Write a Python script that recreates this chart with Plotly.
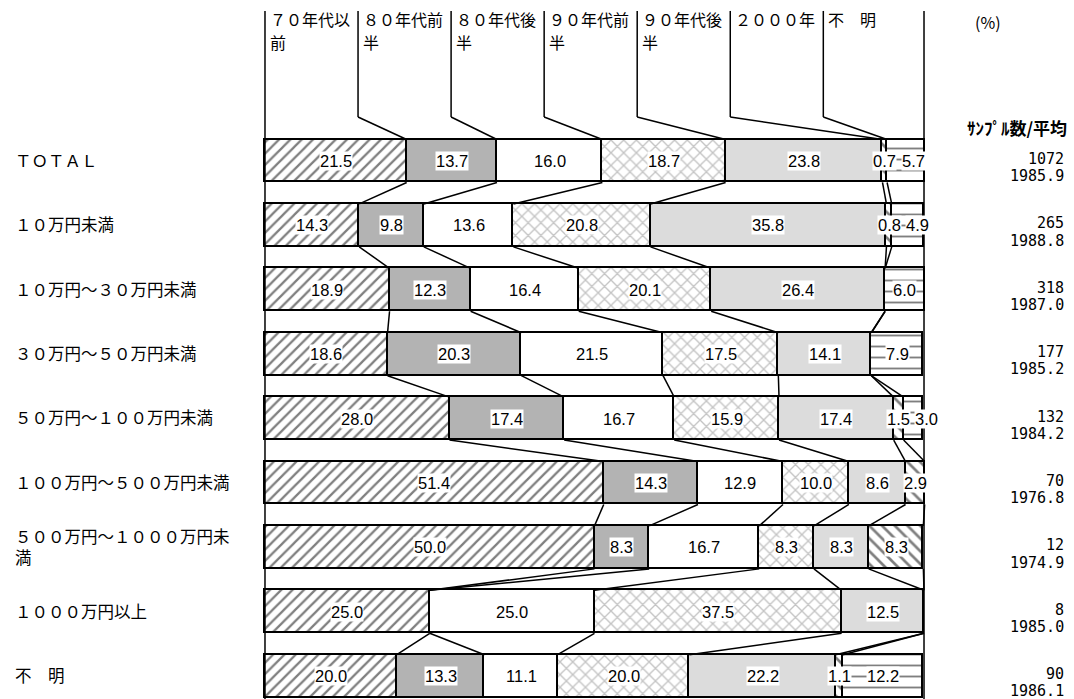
import plotly.graph_objects as go

# ---- data -------------------------------------------------------------
rows = [
    "ＴＯＴＡＬ",
    "１０万円未満",
    "１０万円～３０万円未満",
    "３０万円～５０万円未満",
    "５０万円～１００万円未満",
    "１００万円～５００万円未満",
    "５００万円～１０００万円未<br>満",
    "１０００万円以上",
    "不　明",
]
categories = ["７０年代以前", "８０年代前半", "８０年代後半", "９０年代前半",
              "９０年代後半", "２０００年", "不　明"]
header_text = ["７０年代以<br>前", "８０年代前<br>半", "８０年代後<br>半",
               "９０年代前<br>半", "９０年代後<br>半", "２０００年", "不　明"]

s_70s = [21.5, 14.3, 18.9, 18.6, 28.0, 51.4, 50.0, 25.0, 20.0]
s_80a = [13.7, 9.8, 12.3, 20.3, 17.4, 14.3, 8.3, 0.0, 13.3]
s_80b = [16.0, 13.6, 16.4, 21.5, 16.7, 12.9, 16.7, 25.0, 11.1]
s_90a = [18.7, 20.8, 20.1, 17.5, 15.9, 10.0, 8.3, 37.5, 20.0]
s_90b = [23.8, 35.8, 26.4, 14.1, 17.4, 8.6, 8.3, 12.5, 22.2]
s_2000 = [0.7, 0.8, 0.0, 0.0, 1.5, 2.9, 8.3, 0.0, 1.1]
s_unk = [5.7, 4.9, 6.0, 7.9, 3.0, 0.0, 0.0, 0.0, 12.2]

sample_n = [1072, 265, 318, 177, 132, 70, 12, 8, 90]
sample_avg = [1985.9, 1988.8, 1987.0, 1985.2, 1984.2, 1976.8, 1974.9, 1985.0, 1986.1]

series = [s_70s, s_80a, s_80b, s_90a, s_90b, s_2000, s_unk]

# ---- styles -------------------------------------------------------------
styles = [
    dict(color="white", pattern=dict(shape="/", fgcolor="black", size=8, solidity=0.28, fillmode="overlay")),
    dict(color="#b3b3b3"),
    dict(color="white"),
    dict(color="white", pattern=dict(shape="x", fgcolor="#8a8a8a", size=9, solidity=0.28, fillmode="overlay")),
    dict(color="#dcdcdc"),
    dict(color="white", pattern=dict(shape="\\", fgcolor="black", size=9, solidity=0.3, fillmode="overlay")),
    dict(color="white", pattern=dict(shape="-", fgcolor="black", size=11, solidity=0.17, fillmode="overlay")),
]

CJK = "Noto Sans CJK JP"
NUM = "Liberation Sans, Arial"
MONO = "DejaVu Sans Mono"

BAR_W = 0.667
HALF = BAR_W / 2
ypos = list(range(len(rows)))

fig = go.Figure()
for name, vals, st in zip(categories, series, styles):
    marker = dict(color=st["color"], line=dict(color="black", width=1.8))
    if "pattern" in st:
        marker["pattern"] = st["pattern"]
    fig.add_trace(go.Bar(
        name=name, x=vals, y=ypos, orientation="h", width=BAR_W,
        marker=marker, hoverinfo="skip", showlegend=False,
    ))

# cumulative boundaries per row
cum = []
for r in range(len(rows)):
    acc, edges = 0.0, []
    for s in series:
        edges.append((acc, acc + s[r]))
        acc += s[r]
    cum.append(edges)

shapes = []
line = dict(color="black", width=1.5)

# connector lines between consecutive bars
for r in range(len(rows) - 1):
    for k in range(1, len(series)):
        x0 = cum[r][k][0]
        x1 = cum[r + 1][k][0]
        shapes.append(dict(type="line", x0=x0, x1=x1, y0=r + HALF, y1=r + 1 - HALF, line=line))

# header guide lines
Y_TOP = -2.33
Y_KINK = -0.683
H_STEP = 14.12
for k in range(1, len(series)):
    hx = k * H_STEP
    shapes.append(dict(type="line", x0=hx, x1=hx, y0=Y_TOP, y1=Y_KINK, line=line))
    shapes.append(dict(type="line", x0=hx, x1=cum[0][k][0], y0=Y_KINK, y1=-HALF, line=line))

# outer frame lines
for xv in (0, 100):
    shapes.append(dict(type="line", x0=xv, x1=xv, y0=Y_TOP, y1=8.36, line=line))

annotations = []

# header labels, one annotation per text line
HEAD_Y = [-2.21, -1.85]
for k, t in enumerate(header_text):
    for j, part in enumerate(t.split("<br>")):
        annotations.append(dict(x=k * H_STEP + 0.45, y=HEAD_Y[j], text=part, showarrow=False,
                                xanchor="left", yanchor="middle", align="left",
                                font=dict(family=CJK, size=16, color="black")))

annotations.append(dict(x=107.4, y=-2.16, text="(%)", showarrow=False, xanchor="left",
                        font=dict(family=CJK, size=16, color="black")))
annotations.append(dict(x=122.0, y=-0.52, text="<b>ｻﾝﾌﾟﾙ数/平均</b>", showarrow=False, xanchor="right",
                        font=dict(family=CJK, size=17, color="black")))

# row labels and sample info
PX = 6.59
for r, lab in enumerate(rows):
    annotations.append(dict(x=-38.3, y=r - 0.02, text=lab, showarrow=False, xanchor="left",
                            align="left", font=dict(family=CJK, size=16.5, color="black")))
    annotations.append(dict(x=121.6, y=r - 0.03, text=str(sample_n[r]), showarrow=False,
                            xanchor="right", font=dict(family=MONO, size=15, color="black")))
    annotations.append(dict(x=121.6, y=r + 0.235, text=f"{sample_avg[r]:.1f}", showarrow=False,
                            xanchor="right", font=dict(family=MONO, size=15, color="black")))

# value labels centred in each segment, nudged right when neighbours collide
LABEL_SIZE = 16.5
GAP = 0.8
for r in range(len(rows)):
    prev_right = -1e9
    for k, s in enumerate(series):
        v = s[r]
        if v <= 0:
            continue
        txt = f"{v:.1f}"
        w = ((len(txt) - 1) * 0.556 + 0.278) * LABEL_SIZE / PX
        a, b = cum[r][k]
        cx = (a + b) / 2
        left = cx - w / 2
        if left < prev_right + GAP:
            left = prev_right + GAP
            cx = left + w / 2
        prev_right = cx + w / 2
        annotations.append(dict(x=cx, y=r, text=txt, showarrow=False, bgcolor="white",
                                borderpad=0, font=dict(family=NUM, size=LABEL_SIZE, color="black")))

fig.update_layout(
    barmode="stack",
    width=1074, height=699,
    margin=dict(l=0, r=0, t=0, b=0),
    paper_bgcolor="white", plot_bgcolor="white",
    xaxis=dict(range=[-40.21, 122.76], visible=False, fixedrange=True),
    yaxis=dict(range=[8.354, -2.5], visible=False, fixedrange=True),
    shapes=shapes,
    annotations=annotations,
    bargap=0,
)

fig.write_html("out.html")
